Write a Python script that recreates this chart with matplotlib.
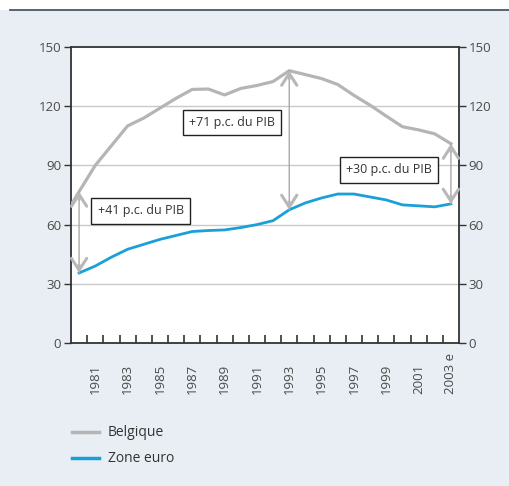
import matplotlib.pyplot as plt
import matplotlib.transforms as mtransforms
from matplotlib.lines import Line2D
from matplotlib.patches import Rectangle

plt.rcParams['font.family'] = ['Open Sans', 'DejaVu Sans']

# data (% of GDP)
years = list(range(1979, 2004))
belgique = [63, 76.7, 90, 100, 110, 114, 119, 124, 128.5, 128.7, 125.7, 129,
            130.5, 132.5, 138, 136, 134, 131, 125.5, 120.5, 115, 109.6, 108,
            106, 101]
zone_years = list(range(1980, 2004))
zone_euro = [35.5, 39, 43.5, 47.5, 50, 52.5, 54.5, 56.5, 57, 57.3, 58.5, 60,
             62, 67.5, 71, 73.5, 75.5, 75.5, 74, 72.5, 70, 69.5, 69, 70.5]

label_years = list(range(1981, 2004, 2))
label_texts = [str(y) for y in label_years[:-1]] + ["2003 e"]

# gaps annotated: (year, top, bottom, text, text x, text y)
gaps = [
    (1980, 76.7, 35.5, "+41 p.c. du PIB", 1983.8, 67),
    (1993, 138, 67.5, "+71 p.c. du PIB", 1989.45, 111.8),
    (2003, 101, 70.5, "+30 p.c. du PIB", 1999.15, 87.7),
]

bg = '#e9eef4'
grey = '#b5b5b5'
blue = '#1aa0d8'
txt = '#4a4a4a'

fig = plt.figure(figsize=(5.1, 4.86), dpi=100)
fig.patch.set_facecolor('white')
# light background panel with dark rule on top
fig.patches.append(Rectangle((0, 0), 1, 1 - 10 / 486, transform=fig.transFigure,
                             facecolor=bg, edgecolor='none', zorder=-10))
fig.lines.append(Line2D([10 / 510, 1], [1 - 10 / 486] * 2, transform=fig.transFigure,
                        color='#3b4a5c', lw=1.2))

ax = fig.add_axes([71 / 510, 143 / 486, 388 / 510, 296 / 486])
ax.set_facecolor('white')

ax.plot(years, belgique, color=grey, lw=2.3, solid_joinstyle='round', zorder=3)
ax.plot(zone_years, zone_euro, color=blue, lw=2.0, solid_joinstyle='round', zorder=4)

ax.set_xlim(1979.5, 2003.5)
ax.set_ylim(0, 150)

# grid
for v in [30, 60, 90, 120]:
    ax.axhline(v, color='#c9c9c9', lw=1, zorder=1)

for s in ax.spines.values():
    s.set_color('#333333')
    s.set_linewidth(1.3)

ax.set_yticks([0, 30, 60, 90, 120, 150])
ax.tick_params(axis='y', which='major', direction='out', length=5, width=1,
               color='#333333', labelcolor=txt, labelsize=9.5, pad=2,
               left=True, right=True, labelleft=True, labelright=True)

# x ticks at year boundaries, inward
ax.set_xticks([y + 0.5 for y in range(1980, 2003)])
ax.tick_params(axis='x', which='major', direction='in', length=6, width=1.2,
               color='#333333', labelbottom=False)

trans = mtransforms.blended_transform_factory(ax.transData, ax.transAxes)
for y, t in zip(label_years, label_texts):
    ax.text(y, -51 / 296, t, transform=trans, rotation=90, ha='center',
            va='bottom', fontsize=9.5, color=txt)

# gap arrows and labels
for x, top, bot, t, tx, ty in gaps:
    ax.annotate('', xy=(x, top), xytext=(x, bot),
                arrowprops=dict(arrowstyle='-', color='#aaaaaa', lw=1,
                                shrinkA=0, shrinkB=0), zorder=5)
    for tip, d in [(top, -1), (bot, 1)]:
        ax.annotate('', xy=(x, tip), xytext=(x, tip + d * 4),
                    arrowprops=dict(arrowstyle='->,head_length=0.85,head_width=0.55',
                                    color='#b8b8b8', lw=2.2, shrinkA=0, shrinkB=0),
                    zorder=5)
    ax.text(tx, ty, t, ha='center', va='center', fontsize=9, color='#333333',
            zorder=6,
            bbox=dict(boxstyle='square,pad=0.5', facecolor='white',
                      edgecolor='#222222', lw=1))

# legend below the chart
fig.lines.append(Line2D([72 / 510, 99 / 510], [1 - 432 / 486] * 2,
                        transform=fig.transFigure, color=grey, lw=2.5))
fig.lines.append(Line2D([72 / 510, 99 / 510], [1 - 458 / 486] * 2,
                        transform=fig.transFigure, color=blue, lw=2.5))
fig.text(108 / 510, 1 - 432 / 486, "Belgique", va='center', fontsize=10, color='#333333')
fig.text(108 / 510, 1 - 458 / 486, "Zone euro", va='center', fontsize=10, color='#333333')

fig.savefig('out.png', dpi=100)
